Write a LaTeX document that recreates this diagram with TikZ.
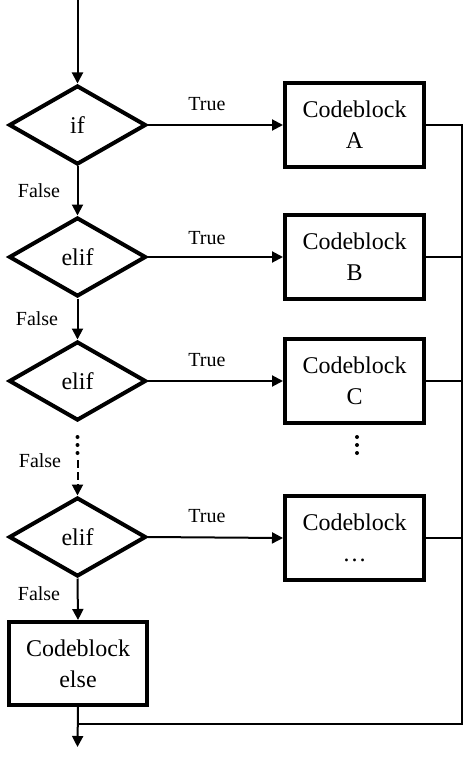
\documentclass[tikz,border=0pt]{standalone}
\usepackage{fontspec}
\setmainfont{Liberation Serif}
\usepackage{tikz}
\usetikzlibrary{shapes.geometric,arrows.meta}

\begin{document}
\begin{tikzpicture}[x=1pt, y=-1pt,
    decision/.style={diamond, draw, line width=4pt, inner sep=0pt, aspect=1.7,
      minimum width=137pt, minimum height=79pt, font=\fontsize{24}{31}\selectfont},
    block/.style={rectangle, draw, line width=4pt, align=center,
      minimum width=139pt, minimum height=84pt, font=\fontsize{24}{31}\selectfont},
    tag/.style={font=\fontsize{20}{24}\selectfont},
    flow/.style={line width=2pt, -{Triangle[length=11pt, width=11pt]}},
    link/.style={line width=2pt}]

  % Frame of the page.
  \useasboundingbox (0,0) rectangle (465,762);

  % Decisions on the left.
  \node[decision] (if)    at (77.5,125) {if};
  \node[decision] (elif1) at (77.5,257) {elif};
  \node[decision] (elif2) at (77.5,381) {elif};
  \node[decision] (elif3) at (77.5,537) {elif};

  % Code blocks.
  \node[block] (blockA) at (354.5,125) {Codeblock\\A};
  \node[block] (blockB) at (354.5,257) {Codeblock\\B};
  \node[block] (blockC) at (354.5,381) {Codeblock\\C};
  \node[block] (blockN) at (354.5,538) {Codeblock\\\ldots};
  \node[block, minimum width=138pt, minimum height=83pt] (blockE) at (78,663.5) {Codeblock\\else};

  % Loose ends.
  \coordinate (start) at (77.5,0);
  \coordinate (gap) at (77.5,460);
  \coordinate (merge) at (462,724);
  \coordinate (finish) at (77.5,747);

  % Arrows down the left.
  \draw[flow] (start) -- (if.north);
  \draw[flow] (if.south) -- (elif1.north);
  \draw[flow] (elif1.south) -- (elif2.north);
  \draw[flow, dash pattern=on 8pt off 4pt] (gap) -- (elif3.north);
  \draw[flow] (elif3.south) -- (blockE.north);
  \draw[flow] (blockE.south) -- (finish);

  % Arrows to the right.
  \draw[flow] (if.east) -- (blockA.west);
  \draw[flow] (elif1.east) -- (blockB.west);
  \draw[flow] (elif2.east) -- (blockC.west);
  \draw[flow] (elif3.east) -- (blockN.west);

  % Return line.
  \draw[link] (blockA.east) -| (merge) -- (blockE.south |- merge);
  \draw[link] (blockB.east) -- (blockB.east -| merge);
  \draw[link] (blockC.east) -- (blockC.east -| merge);
  \draw[link] (blockN.east) -- (blockN.east -| merge);

  % Dots.
  \foreach \y in {437,445,453} {
    \fill (77.5,\y) circle (2pt);
    \fill (357,\y) circle (2pt);
  }

  % Labels.
  \node[tag] (t1) at (207,104) {True};
  \node[tag] (t2) at (207,238) {True};
  \node[tag] (t3) at (207,360) {True};
  \node[tag] (t4) at (207,516) {True};
  \node[tag] (f1) at (39,191) {False};
  \node[tag] (f2) at (37,319) {False};
  \node[tag] (f3) at (40,461) {False};
  \node[tag] (f4) at (39,594) {False};

\end{tikzpicture}
\end{document}
